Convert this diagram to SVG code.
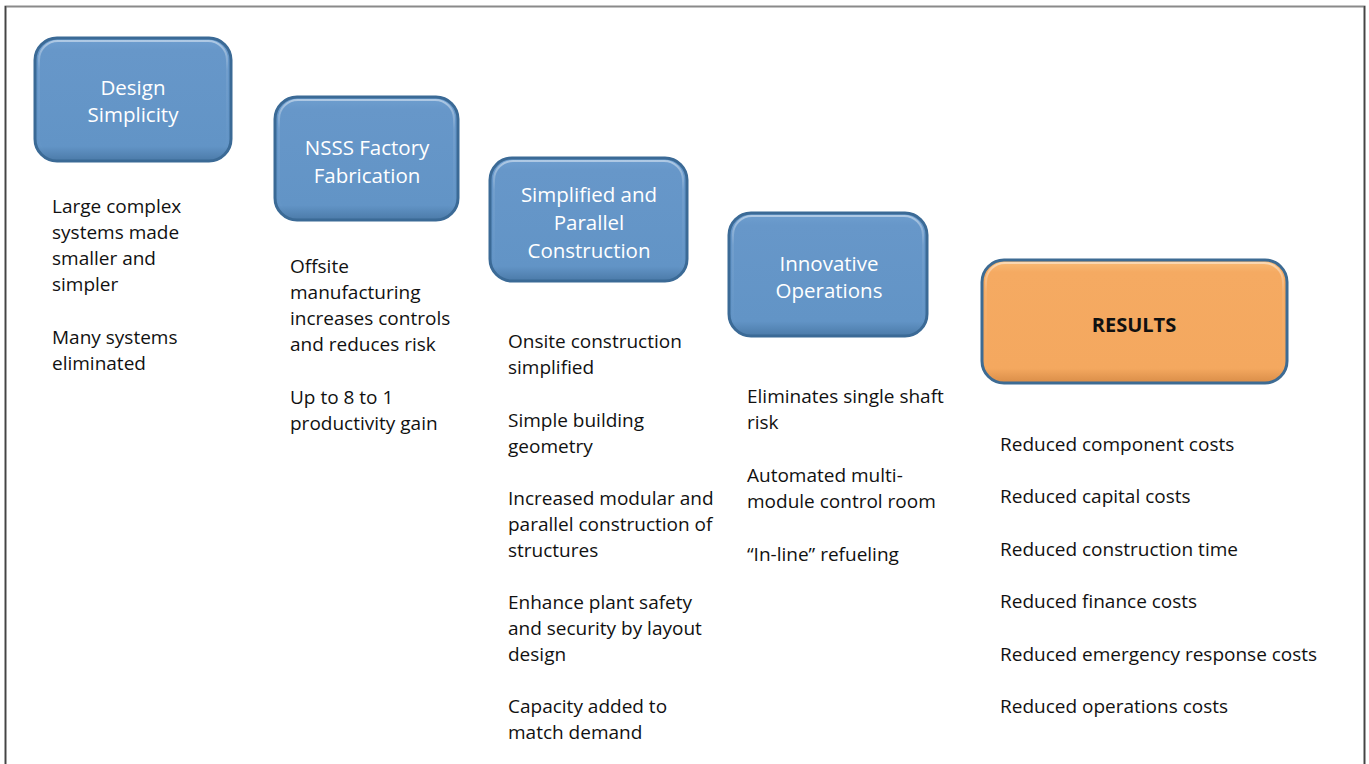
<svg xmlns="http://www.w3.org/2000/svg" width="1369" height="764" viewBox="0 0 1369 764">
  <style>
    .lbl { font-family: "Open Sans", "Liberation Sans", sans-serif; font-size: 19px; fill: #111; }
    .head { font-family: "Open Sans", "Liberation Sans", sans-serif; font-size: 20.5px; fill: #ffffff; text-anchor: middle; }
    .res { font-family: "Open Sans", "Liberation Sans", sans-serif; font-size: 20px; font-weight: bold; fill: #111; text-anchor: middle; }
    .blue { fill: url(#blueFill); stroke: #3b6a96; stroke-width: 3; }
    .orange { fill: url(#orangeFill); stroke: #3d6b93; stroke-width: 3; }
    .shine { fill: none; stroke: url(#shineStroke); stroke-width: 2; }
  </style>
  <defs>
    <linearGradient id="blueFill" x1="0" y1="0" x2="0" y2="1">
      <stop offset="0" stop-color="#6f9fd0"/>
      <stop offset="0.1" stop-color="#6797c9"/>
      <stop offset="0.88" stop-color="#6294c6"/>
      <stop offset="1" stop-color="#4b7aa8"/>
    </linearGradient>
    <linearGradient id="orangeFill" x1="0" y1="0" x2="0" y2="1">
      <stop offset="0" stop-color="#f8bd78"/>
      <stop offset="0.1" stop-color="#f5aa62"/>
      <stop offset="0.88" stop-color="#f4a85f"/>
      <stop offset="1" stop-color="#d98d48"/>
    </linearGradient>
    <linearGradient id="shineStroke" x1="0" y1="0" x2="0" y2="1">
      <stop offset="0" stop-color="#ffffff" stop-opacity="0.45"/>
      <stop offset="0.25" stop-color="#ffffff" stop-opacity="0.08"/>
      <stop offset="1" stop-color="#ffffff" stop-opacity="0"/>
    </linearGradient>
  </defs>

  <rect width="1369" height="764" fill="#ffffff"/>
  <!-- frame -->
  <path d="M5.5 764 V6.5 H1364.5 V764" fill="none" stroke="#8a8a8a" stroke-width="2"/>
  <line x1="1364.5" y1="6" x2="1364.5" y2="764" stroke="#444" stroke-width="1.5"/>
  <line x1="5.5" y1="6" x2="5.5" y2="764" stroke="#444" stroke-width="1.5"/>

  <g id="design-simplicity">
    <rect class="blue" x="35" y="38" width="196" height="123" rx="22"/>
    <rect class="shine" x="39" y="41" width="188" height="116" rx="19"/>
    <text class="head" x="133" y="95">Design</text>
    <text class="head" x="133" y="122">Simplicity</text>
    <text class="lbl" x="52" y="213">Large complex</text>
    <text class="lbl" x="52" y="239">systems made</text>
    <text class="lbl" x="52" y="265">smaller and</text>
    <text class="lbl" x="52" y="291">simpler</text>
    <text class="lbl" x="52" y="344">Many systems</text>
    <text class="lbl" x="52" y="370">eliminated</text>
  </g>

  <g id="nsss-factory-fabrication">
    <rect class="blue" x="275" y="97" width="183" height="123" rx="22"/>
    <rect class="shine" x="279" y="100" width="175" height="116" rx="19"/>
    <text class="head" x="367" y="155">NSSS Factory</text>
    <text class="head" x="367" y="183">Fabrication</text>
    <text class="lbl" x="290" y="273">Offsite</text>
    <text class="lbl" x="290" y="299">manufacturing</text>
    <text class="lbl" x="290" y="325">increases controls</text>
    <text class="lbl" x="290" y="351">and reduces risk</text>
    <text class="lbl" x="290" y="404">Up to 8 to 1</text>
    <text class="lbl" x="290" y="430">productivity gain</text>
  </g>

  <g id="simplified-parallel-construction">
    <rect class="blue" x="490" y="158" width="197" height="123" rx="22"/>
    <rect class="shine" x="494" y="161" width="189" height="116" rx="19"/>
    <text class="head" x="589" y="202">Simplified and</text>
    <text class="head" x="589" y="230">Parallel</text>
    <text class="head" x="589" y="258">Construction</text>
    <text class="lbl" x="508" y="348">Onsite construction</text>
    <text class="lbl" x="508" y="374">simplified</text>
    <text class="lbl" x="508" y="427">Simple building</text>
    <text class="lbl" x="508" y="453">geometry</text>
    <text class="lbl" x="508" y="505">Increased modular and</text>
    <text class="lbl" x="508" y="531">parallel construction of</text>
    <text class="lbl" x="508" y="557">structures</text>
    <text class="lbl" x="508" y="609">Enhance plant safety</text>
    <text class="lbl" x="508" y="635">and security by layout</text>
    <text class="lbl" x="508" y="661">design</text>
    <text class="lbl" x="508" y="713">Capacity added to</text>
    <text class="lbl" x="508" y="739">match demand</text>
  </g>

  <g id="innovative-operations">
    <rect class="blue" x="729" y="213" width="198" height="123" rx="22"/>
    <rect class="shine" x="733" y="216" width="190" height="116" rx="19"/>
    <text class="head" x="829" y="271">Innovative</text>
    <text class="head" x="829" y="298">Operations</text>
    <text class="lbl" x="747" y="403">Eliminates single shaft</text>
    <text class="lbl" x="747" y="429">risk</text>
    <text class="lbl" x="747" y="482">Automated multi-</text>
    <text class="lbl" x="747" y="508">module control room</text>
    <text class="lbl" x="747" y="561">“In-line” refueling</text>
  </g>

  <g id="results">
    <rect class="orange" x="982" y="260" width="305" height="123" rx="22"/>
    <rect class="shine" x="986" y="263" width="297" height="116" rx="19"/>
    <text class="res" x="1134" y="332">RESULTS</text>
    <text class="lbl" x="1000" y="451">Reduced component costs</text>
    <text class="lbl" x="1000" y="503">Reduced capital costs</text>
    <text class="lbl" x="1000" y="556">Reduced construction time</text>
    <text class="lbl" x="1000" y="608">Reduced finance costs</text>
    <text class="lbl" x="1000" y="661">Reduced emergency response costs</text>
    <text class="lbl" x="1000" y="713">Reduced operations costs</text>
  </g>

  <g id="connectors"></g>
</svg>
